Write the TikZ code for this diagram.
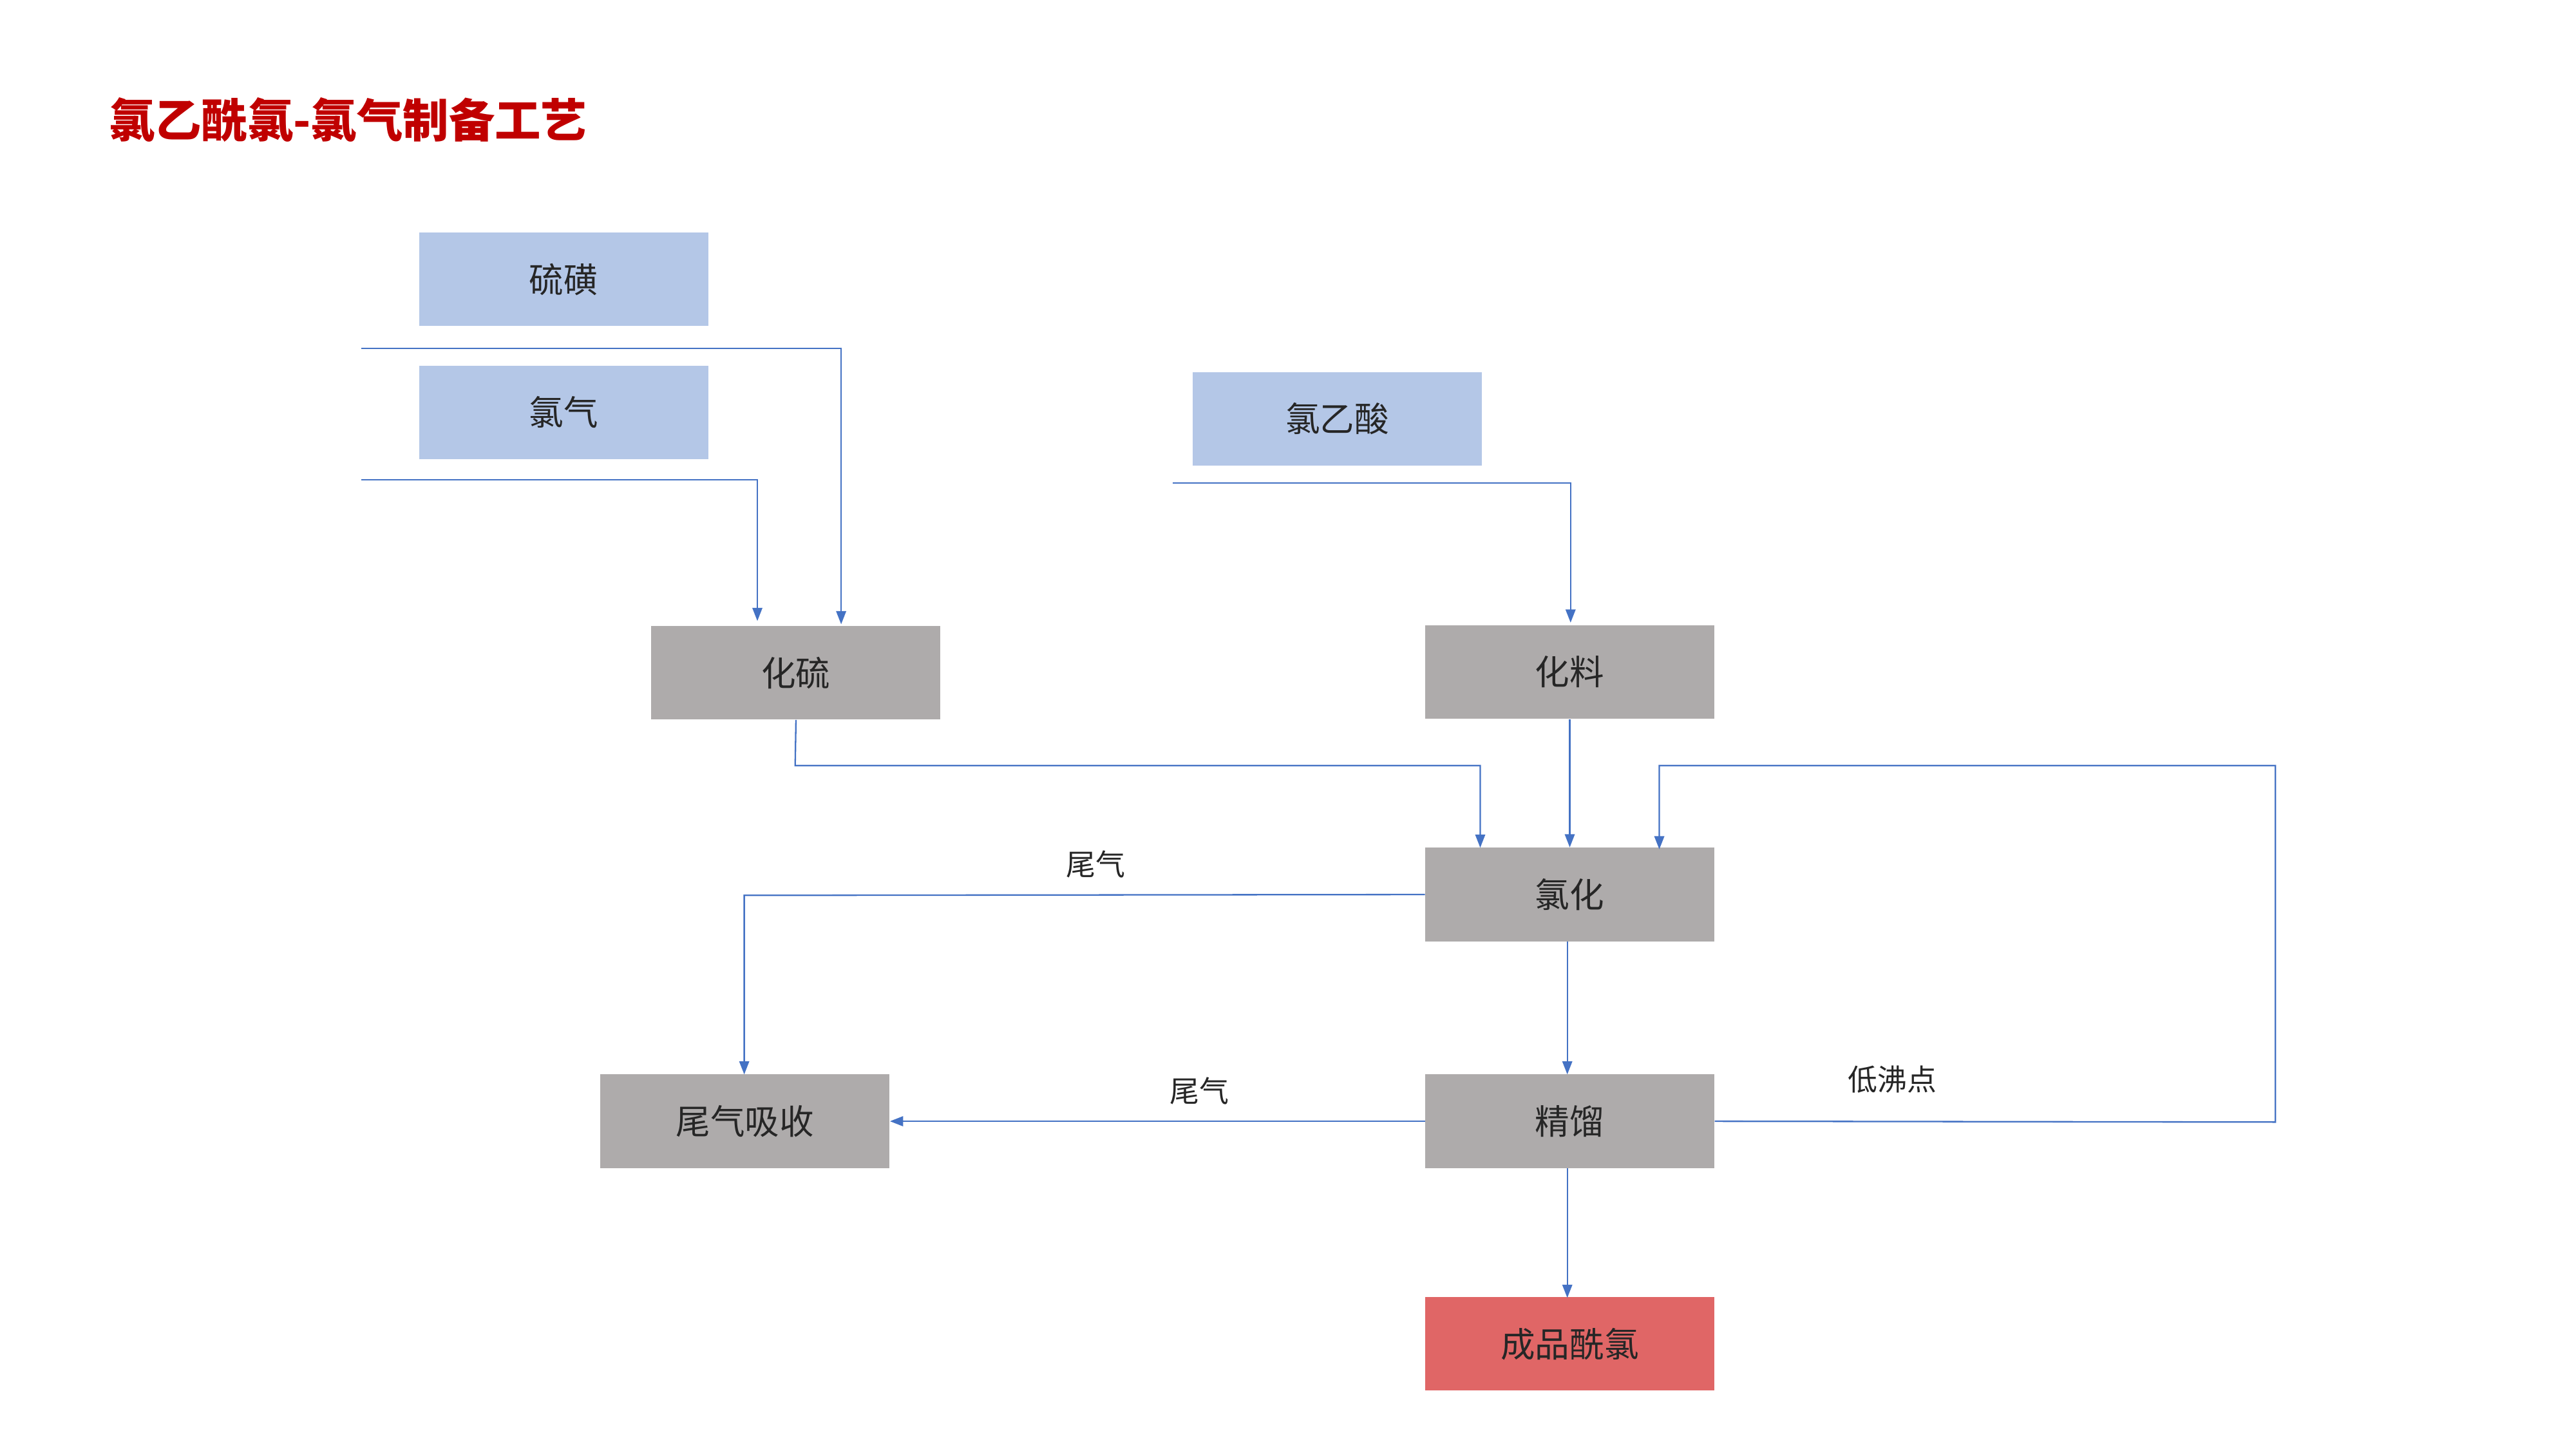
\documentclass[tikz,border=0pt]{standalone}
\usepackage{fontspec}
\setmainfont{Noto Sans CJK SC}
\usetikzlibrary{arrows.meta}
\definecolor{lb}{HTML}{B4C7E7}
\definecolor{gr}{HTML}{AEABAB}
\definecolor{rd}{HTML}{E06666}
\definecolor{ln}{HTML}{4472C4}
\definecolor{tt}{HTML}{C00000}
\begin{document}
\begin{tikzpicture}[x=1pt,y=-1pt,
 box/.style={minimum width=176pt,minimum height=57pt,inner sep=0pt,font=\fontsize{21}{24}\selectfont,text=black!85},
 src/.style={box,fill=lb},
 prc/.style={box,fill=gr},
 fin/.style={box,fill=rd},
 flow/.style={draw=ln,line width=0.9pt,-{Triangle[length=8pt,width=6pt]}},
 plain/.style={draw=ln,line width=0.9pt},
 lbl/.style={font=\fontsize{18}{21}\selectfont,text=black!85}]
\useasboundingbox (0,0) rectangle (1568,882);
\node[font=\fontsize{28}{32}\selectfont\bfseries,text=tt,anchor=west] (title) at (63,73) {氯乙酰氯-氯气制备工艺};
\node[src] (s) at (343,170) {硫磺};
\node[src] (c) at (343,251) {氯气};
\node[src] (a) at (814,255) {氯乙酸};
\node[prc] (hs) at (484.5,409.5) {化硫};
\node[prc] (hl) at (955.5,409) {化料};
\node[prc] (lh) at (955.5,544.5) {氯化};
\node[prc] (jl) at (955.5,682.5) {精馏};
\node[prc] (wq) at (453.5,682.5) {尾气吸收};
\node[fin] (cp) at (955.5,818) {成品酰氯};
\coordinate (s0) at (220,212);
\coordinate (c0) at (220,292);
\coordinate (a0) at (714,294);
\draw[flow] (s0) -- (512,212) -- (512,380);
\draw[flow] (c0) -- (461,292) -- (461,378);
\draw[flow] (a0) -- (956,294) -- (956,379);
\draw[flow] (hs.south) -- (484,466) -- (901,466) -- (901,516);
\draw[flow] (hl.south) -- (lh.north);
\draw[flow] (jl.east) -- (1385,683) -- (1385,466) -- (1010,466) -- (1010,517);
\draw[flow] (lh.west) -- (453,545) -- (453,654);
\draw[flow] (jl.west) -- (wq.east);
\draw[flow] (954,573) -- (954,654);
\draw[flow] (954,711) -- (954,790);
\node[lbl] (l1) at (1152,657) {低沸点};
\node[lbl] (l2) at (667,526) {尾气};
\node[lbl] (l3) at (730,664) {尾气};
\end{tikzpicture}
\end{document}
